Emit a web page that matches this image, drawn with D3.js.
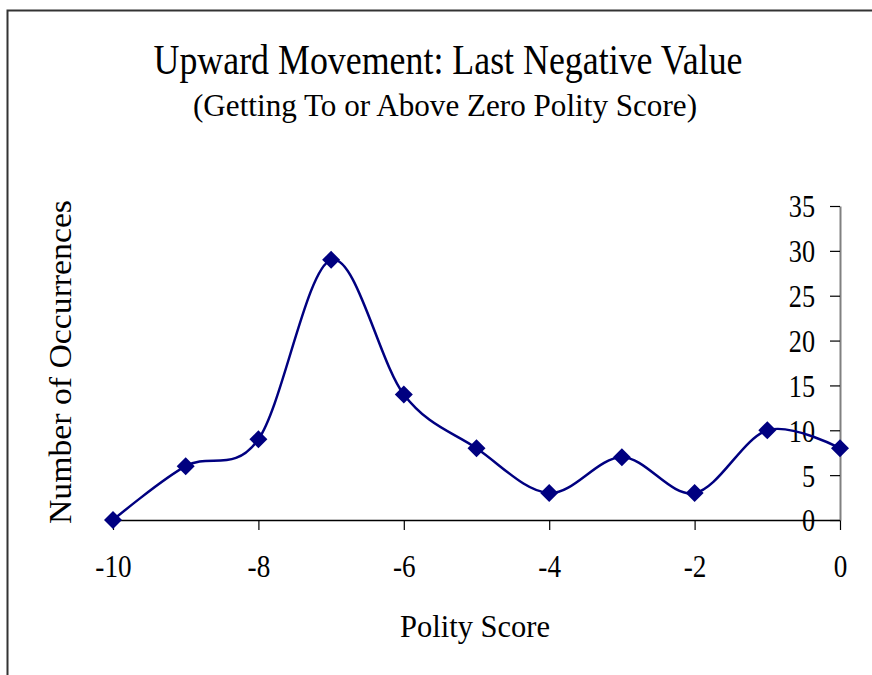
<!DOCTYPE html>
<html>
<head>
<meta charset="utf-8">
<script src="https://cdn.jsdelivr.net/npm/d3@7"></script>
<style>
  body { margin: 0; background: #fff; }
  text { font-family: "Liberation Serif", "Times New Roman", serif; fill: #000; }
</style>
</head>
<body>
<svg id="chart" width="872" height="675"></svg>
<script>
// data
let scores = [-10, -9, -8, -7, -6, -5, -4, -3, -2, -1, 0],
    occurrences = [0, 6, 9, 29, 14, 8, 3, 7, 3, 10, 8],
    xTicks = [-10, -8, -6, -4, -2, 0],
    yTicks = [0, 5, 10, 15, 20, 25, 30, 35];

let svg = d3.select("#chart");

// frame
svg.append("rect")
    .attr("x", 7.5).attr("y", 10.5)
    .attr("width", 900).attr("height", 700)
    .attr("fill", "none").attr("stroke", "#333").attr("stroke-width", 2);

let x = d3.scaleLinear().domain([-10, 0]).range([113, 840]),
    y = d3.scaleLinear().domain([0, 35]).range([520, 206]);

// squeeze text horizontally, like the narrow Times of the original
function squeeze(sel, k){
    sel.each(function(){
        let w = this.getComputedTextLength();
        d3.select(this).attr("textLength", w * k).attr("lengthAdjust", "spacingAndGlyphs");
    });
}

// titles
svg.append("text")
    .attr("x", 448).attr("y", 74)
    .attr("text-anchor", "middle")
    .attr("font-size", 42)
    .attr("textLength", 589).attr("lengthAdjust", "spacingAndGlyphs")
    .text("Upward Movement: Last Negative Value");
svg.append("text")
    .attr("x", 445).attr("y", 116)
    .attr("text-anchor", "middle")
    .attr("font-size", 32)
    .attr("textLength", 504).attr("lengthAdjust", "spacingAndGlyphs")
    .text("(Getting To or Above Zero Polity Score)");

// x axis
let gx = svg.append("g")
    .attr("transform", "translate(0," + y(0) + ")")
    .call(d3.axisBottom(x).tickValues(xTicks).tickSize(10).tickPadding(24).tickSizeOuter(0));
gx.select(".domain").attr("stroke", "#000").attr("stroke-width", 1.5);
gx.selectAll(".tick line").attr("stroke", "#000").attr("stroke-width", 1.2);
gx.selectAll(".tick text")
    .attr("font-family", "Liberation Serif")
    .attr("font-size", 32)
    .attr("fill", "#000")
    .text(d => d < 0 ? "-" + Math.abs(d) : d)
    .call(squeeze, 0.85);

// y axis on the right, ticks pointing left
let gy = svg.append("g")
    .attr("transform", "translate(" + x(0) + ",0)")
    .call(d3.axisLeft(y).tickValues(yTicks).tickSize(10).tickPadding(15).tickSizeOuter(0));
gy.select(".domain").attr("stroke", "#808080").attr("stroke-width", 2);
gy.selectAll(".tick line").attr("stroke", "#000").attr("stroke-width", 1.2);
gy.selectAll(".tick text")
    .attr("font-family", "Liberation Serif")
    .attr("font-size", 32)
    .attr("fill", "#000")
    .attr("dy", "0.34em")
    .call(squeeze, 0.82);

// axis titles
svg.append("text")
    .attr("transform", "translate(71,362) rotate(-90)")
    .attr("text-anchor", "middle")
    .attr("font-size", 31)
    .attr("textLength", 324).attr("lengthAdjust", "spacingAndGlyphs")
    .text("Number of Occurrences");
svg.append("text")
    .attr("x", 475).attr("y", 637)
    .attr("text-anchor", "middle")
    .attr("font-size", 31)
    .attr("textLength", 150).attr("lengthAdjust", "spacingAndGlyphs")
    .text("Polity Score");

// smoothed line
let pts = scores.map((s, i) => ({s: s, v: occurrences[i]}));
svg.append("path")
    .datum(pts)
    .attr("d", d3.line().x(d => x(d.s)).y(d => y(d.v)).curve(d3.curveCatmullRom.alpha(0)))
    .attr("fill", "none")
    .attr("stroke", "#000080")
    .attr("stroke-width", 2.5);

// diamond markers
svg.selectAll(".mark").data(pts).enter()
    .append("path")
    .attr("class", "mark")
    .attr("transform", d => "translate(" + x(d.s) + "," + y(d.v) + ")")
    .attr("d", "M0,-9L9,0L0,9L-9,0Z")
    .attr("fill", "#000080");
</script>
</body>
</html>
